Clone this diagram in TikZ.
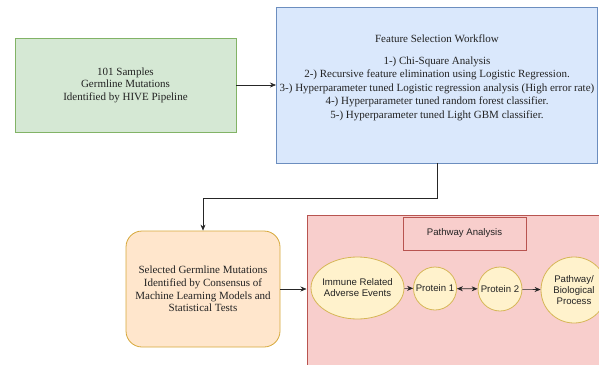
\documentclass[tikz,border=0pt]{standalone}
\usepackage{fontspec}
\setmainfont{Liberation Serif}
\setsansfont{Liberation Sans}
\usepackage{xcolor}
\usepackage{tikz}
\usetikzlibrary{arrows.meta,positioning,shapes.geometric}
\definecolor{grfill}{HTML}{D5E8D4}
\definecolor{grline}{HTML}{82B366}
\definecolor{blfill}{HTML}{DAE8FC}
\definecolor{blline}{HTML}{6C8EBF}
\definecolor{orfill}{HTML}{FFE6CC}
\definecolor{orline}{HTML}{D6A83A}
\definecolor{rdfill}{HTML}{F8CECC}
\definecolor{rdline}{HTML}{B85450}
\definecolor{ylfill}{HTML}{FFF2CC}
\definecolor{ylline}{HTML}{D6B656}
\definecolor{ink}{HTML}{222222}

\begin{document}
\begin{tikzpicture}[x=1pt, y=-1pt]

\tikzset{
  grbox/.style={draw=grline, fill=grfill, line width=0.8pt, minimum width=221pt, minimum height=94pt,
                align=center, text=ink, font=\fontsize{11}{12.6}\selectfont},
  blbox/.style={draw=blline, fill=blfill, line width=0.8pt, minimum width=314pt, minimum height=156pt,
                align=center, text=ink, font=\fontsize{11}{13.6}\selectfont},
  orbox/.style={rounded corners=16pt, draw=orline, fill=orfill, line width=0.8pt, minimum width=154pt,
                minimum height=116pt, align=center, text=ink, font=\fontsize{11}{12.7}\selectfont},
  rdbox/.style={draw=rdline, fill=rdfill, line width=0.8pt, minimum width=123pt, minimum height=33pt,
                align=center, text=ink, font=\sffamily\fontsize{9.6}{11}\selectfont},
  evnode/.style={draw=ylline, fill=ylfill, line width=0.8pt, inner sep=0pt, align=center, text=ink,
                 font=\sffamily\fontsize{9.6}{11}\selectfont},
  flow/.style={-{Stealth[length=6pt,width=5pt]}, line width=0.6pt, draw=black!85},
  flow2/.style={{Stealth[length=6pt,width=5pt]}-{Stealth[length=6pt,width=5pt]}, line width=0.6pt, draw=black!85}}

\clip (0,0) rectangle (599,364);

% top row: samples -> feature selection
\node[grbox] (samples) at (125.5,85) {101 Samples\\Germline Mutations\\Identified by HIVE Pipeline};
\node[blbox] (feat) at (437,85) {Feature Selection Workflow\\[8pt]
  1-) Chi-Square Analysis\\
  2-) Recursive feature elimination using Logistic Regression.\\
  3-) Hyperparameter tuned Logistic regression analysis (High error rate)\\
  4-) Hyperparameter tuned random forest classifier.\\
  5-) Hyperparameter tuned Light GBM classifier.\\[3pt]};
\draw[flow] (samples) -- (feat);

% bottom row: consensus -> pathway analysis
\node[orbox] (consensus) at (203,289) {Selected Germline Mutations\\Identified by Consensus of\\Machine Learning Models and\\Statistical Tests};
\draw[flow] (feat.south) -- ++(0,35) -| (consensus.north);

\node[draw=rdline, fill=rdfill, line width=0.8pt, minimum width=310pt, minimum height=170pt,
      anchor=north west] (pathway) at (306.5,215) {};
\draw[flow] (consensus.east) -- (consensus.east -| pathway.west);

\node[rdbox] (pwtitle) at (464.5,233.5) {Pathway Analysis};
\node[evnode, ellipse, inner sep=-6pt, minimum width=93pt, minimum height=62pt] (irae) at (357.5,288) {Immune Related\\Adverse Events};
\node[evnode, circle, minimum size=43pt] (prot1) at (435,288.5) {Protein 1};
\node[evnode, circle, minimum size=44pt] (prot2) at (500,289) {Protein 2};
\node[evnode, circle, minimum size=66pt] (bioproc) at (574,290) {Pathway/\\Biological\\Process};
\draw[flow] (irae) -- (prot1);
\draw[flow2] (prot1) -- (prot2);
\draw[flow] (prot2) -- (bioproc);

\end{tikzpicture}
\end{document}
